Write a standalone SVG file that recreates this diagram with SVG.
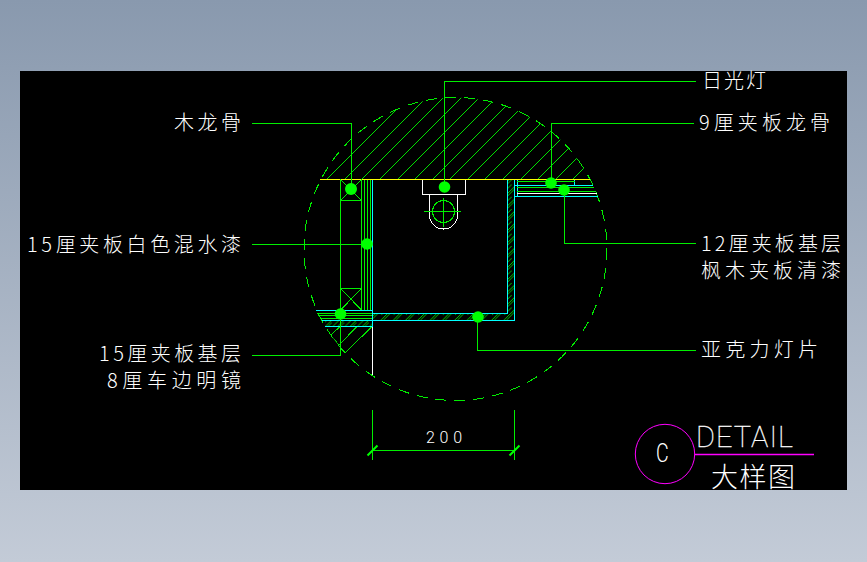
<svg xmlns="http://www.w3.org/2000/svg" width="867" height="562" viewBox="0 0 867 562">
<style>
.g{fill:none;stroke:#00ee00;stroke-width:1;shape-rendering:crispEdges}
.c{fill:none;stroke:#00ffff;stroke-width:1;shape-rendering:crispEdges}
.w{fill:none;stroke:#fff;stroke-width:1;shape-rendering:crispEdges}
.h{fill:none;stroke:#00e000;stroke-width:1;shape-rendering:crispEdges}
.d{fill:#00ff00}
.t{fill:#fff;font-family:"Noto Sans CJK SC","Noto Sans",sans-serif;font-weight:300;font-size:20px;dominant-baseline:central}
</style>
<defs>
<linearGradient id="bg" x1="0" y1="0" x2="0" y2="1"><stop offset="0" stop-color="#8999ae"/><stop offset="1" stop-color="#c3cbd7"/></linearGradient>
<clipPath id="top"><path d="M320 179.500H590L600 70H310Z"/></clipPath>
<clipPath id="circ"><circle cx="455.500" cy="249" r="151.500"/></clipPath>
<pattern id="hx" patternUnits="userSpaceOnUse" width="12.300" height="12.300">
<path d="M0 12.300L12.300 0M2.500 12.300L12.300 2.500M-2.500 9.800L9.800 -2.500" stroke="#00e000" stroke-width="0.900"/>
</pattern>
</defs>
<rect width="867" height="562" fill="url(#bg)"/>
<rect x="20" y="71" width="827" height="419" fill="#000"/>
<g id="detail-circle">
<circle class="g" cx="455.500" cy="249" r="151.500" stroke-dasharray="11 8"/>
<g clip-path="url(#circ)"><path class="h" clip-path="url(#top)" d="M327 179L437 69M345 179L455 69M362 179L472 69M380 179L490 69M398 179L508 69M415 179L525 69M433 179L543 69M450 179L560 69M468 179L578 69M485 179L595 69M503 179L613 69M521 179L631 69M538 179L648 69M556 179L666 69M573 179L683 69"/>
<path class="h" d="M372 326.500L344 354L352 362M357 326.500L339 345L332 337M340 326.500L330 336"/></g>
<path d="M320 179.500H590" fill="none" stroke="#ffff00" stroke-width="1" shape-rendering="crispEdges"/>
</g>
<g id="wall-left">
<path class="g" d="M340.500 179.500V355M361.500 179.500V310M340.500 200.500H361.500M340.500 179.500L361.500 200.500M361.500 179.500L340.500 200.500M340.500 288.500H361.500V310M340.500 288.500L361.500 310M361.500 288.500L340.500 310M364.500 179.500V310M367.500 179.500V310M370.500 179.500V310"/>
<path class="c" d="M372.500 179.500V326.500M316 310.500H372M322 320.500H372M325 326.500H372"/>
<path class="g" d="M317 313.500H372M318 315.500H372M320 318.500H372"/>
<rect x="325" y="321" width="47" height="5" fill="url(#hx)"/>
<path class="w" d="M372.500 326.500V375"/>
</g>
<g id="light-box">
<rect x="373" y="314" width="141" height="6" fill="url(#hx)"/>
<rect x="508" y="180" width="6" height="134" fill="url(#hx)"/>
<path class="c" d="M372 313.500H507.500V179.500M372 320.500H514.500V179.500"/>
</g>
<g id="wall-right">
<path class="c" d="M517.500 179.500V196.500M574.500 179.500V185.500M515 185.500H593M515 196.500H598"/>
<path class="g" d="M517 181.500H575M517 187.500H594M517 191.500H596"/>
<path class="w" d="M517 193.500H597"/>
</g>
<g id="fixture">
<path class="w" d="M422.500 179.500V194.500H465.500V179.500M429.500 194.500V215A14 14 0 0 0 457.500 215V194.500"/>
<circle class="g" cx="443.500" cy="211.500" r="11"/>
<path class="g" d="M424 211.500H461M443.500 198V227"/>
</g>
<g id="connectors">
<path class="g" d="M252 123.500H351.500V189M444.500 187V81.500H696M551.500 183V123.500H694M252 244.500H367M564.500 190V243.500H696M252 355.500H340.500V314M477.500 317V350.500H696"/>
<circle class="d" cx="351" cy="189" r="6"/>
<circle class="d" cx="367" cy="244" r="5.800"/>
<circle class="d" cx="340.500" cy="314" r="5.800"/>
<circle class="d" cx="444.500" cy="187" r="5.800"/>
<circle class="d" cx="551" cy="183" r="5.800"/>
<circle class="d" cx="564" cy="190" r="5.800"/>
<circle class="d" cx="478" cy="317" r="5.800"/>
</g>
<g id="dimension">
<path class="g" d="M372.500 410V460M514.500 410V460M372.500 450.500H514.500"/>
<path d="M367.500 455.500L377.500 445.500M509.500 455.500L519.500 445.500" fill="none" stroke="#00ff00" stroke-width="2"/>
<text x="426" y="437" textLength="36" style="font-family:Roboto,'Liberation Sans',sans-serif;font-weight:300;font-size:16px" class="t">200</text>
</g>
<g id="labels">
<text class="t" x="174" y="121" textLength="67">木龙骨</text>
<text class="t" x="27" y="243" textLength="214">15厘夹板白色混水漆</text>
<text class="t" x="99" y="352" textLength="142">15厘夹板基层</text>
<text class="t" x="107" y="379" textLength="134">8厘车边明镜</text>
<text class="t" x="702" y="79" textLength="64">日光灯</text>
<text class="t" x="699" y="121" textLength="131">9厘夹板龙骨</text>
<text class="t" x="701" y="242" textLength="140">12厘夹板基层</text>
<text class="t" x="701" y="269" textLength="140">枫木夹板清漆</text>
<text class="t" x="701" y="348" textLength="117">亚克力灯片</text>
</g>
<g id="title">
<circle cx="665" cy="454" r="29.700" fill="none" stroke="#ff00ff" stroke-width="1"/>
<path d="M695 454.500H814" fill="none" stroke="#ff00ff" stroke-width="1.500"/>
<text transform="translate(656 454) scale(0.75 1)" style="font-family:Roboto,sans-serif;font-weight:300;font-size:26px" class="t">C</text>
<text x="696" y="447" textLength="97" style="font-family:Roboto,sans-serif;font-weight:100;font-size:29px;dominant-baseline:auto;stroke:#fff;stroke-width:0.300" class="t">DETAIL</text>
<text x="711" y="475" textLength="84" style="font-size:27px" class="t">大样图</text>
</g>
</svg>
